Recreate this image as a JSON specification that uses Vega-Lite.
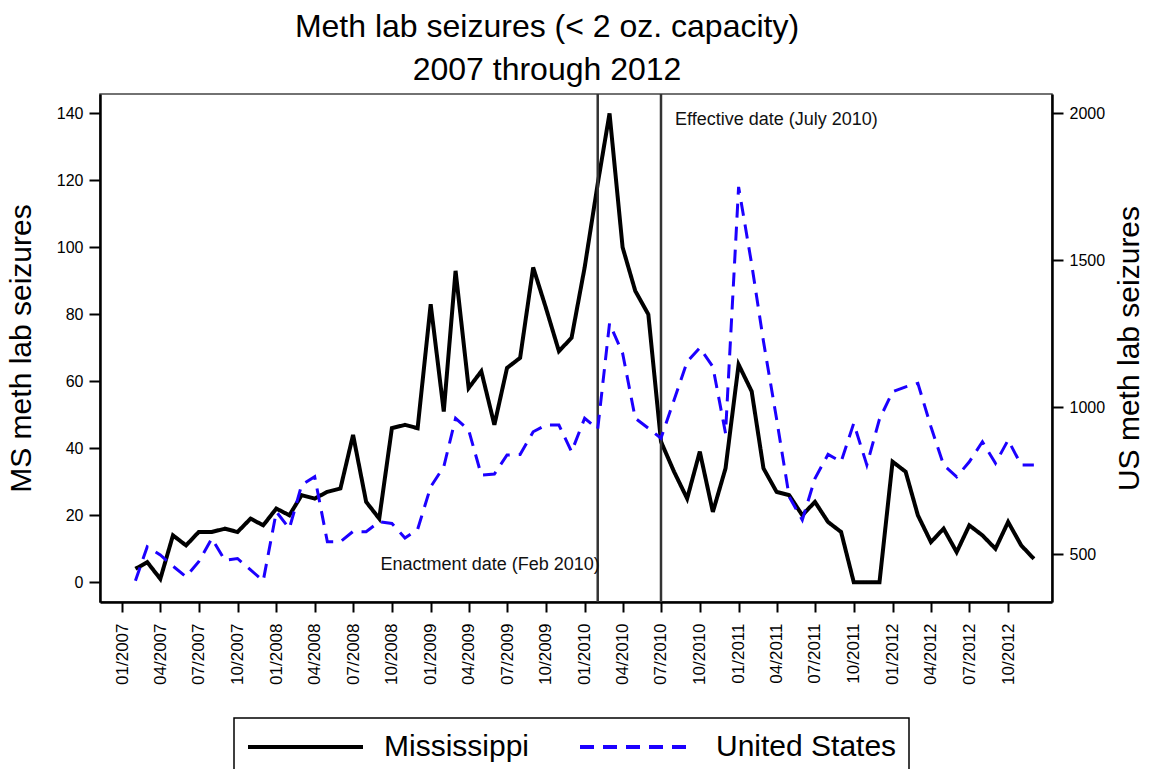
{
  "$schema": "https://vega.github.io/schema/vega-lite/v6.json",
  "width": 952,
  "height": 508,
  "autosize": "none",
  "padding": {"left": 100, "top": 94, "right": 100, "bottom": 167},
  "background": "white",
  "title": {
    "text": ["Meth lab seizures (< 2 oz. capacity)", "2007 through 2012"],
    "fontSize": 32, "font": "Liberation Sans", "fontWeight": "normal", "color": "black",
    "lineHeight": 43, "anchor": "middle", "dx": -29, "offset": 6
  },
  "datasets": {
    "ms": [
      {"date": "2007-02-01", "series": "Mississippi", "seizures": 4},
      {"date": "2007-03-01", "series": "Mississippi", "seizures": 6},
      {"date": "2007-04-01", "series": "Mississippi", "seizures": 1},
      {"date": "2007-05-01", "series": "Mississippi", "seizures": 14},
      {"date": "2007-06-01", "series": "Mississippi", "seizures": 11},
      {"date": "2007-07-01", "series": "Mississippi", "seizures": 15},
      {"date": "2007-08-01", "series": "Mississippi", "seizures": 15},
      {"date": "2007-09-01", "series": "Mississippi", "seizures": 16},
      {"date": "2007-10-01", "series": "Mississippi", "seizures": 15},
      {"date": "2007-11-01", "series": "Mississippi", "seizures": 19},
      {"date": "2007-12-01", "series": "Mississippi", "seizures": 17},
      {"date": "2008-01-01", "series": "Mississippi", "seizures": 22},
      {"date": "2008-02-01", "series": "Mississippi", "seizures": 20},
      {"date": "2008-03-01", "series": "Mississippi", "seizures": 26},
      {"date": "2008-04-01", "series": "Mississippi", "seizures": 25},
      {"date": "2008-05-01", "series": "Mississippi", "seizures": 27},
      {"date": "2008-06-01", "series": "Mississippi", "seizures": 28},
      {"date": "2008-07-01", "series": "Mississippi", "seizures": 44},
      {"date": "2008-08-01", "series": "Mississippi", "seizures": 24},
      {"date": "2008-09-01", "series": "Mississippi", "seizures": 19},
      {"date": "2008-10-01", "series": "Mississippi", "seizures": 46},
      {"date": "2008-11-01", "series": "Mississippi", "seizures": 47},
      {"date": "2008-12-01", "series": "Mississippi", "seizures": 46},
      {"date": "2009-01-01", "series": "Mississippi", "seizures": 83},
      {"date": "2009-02-01", "series": "Mississippi", "seizures": 51},
      {"date": "2009-03-01", "series": "Mississippi", "seizures": 93},
      {"date": "2009-04-01", "series": "Mississippi", "seizures": 58},
      {"date": "2009-05-01", "series": "Mississippi", "seizures": 63},
      {"date": "2009-06-01", "series": "Mississippi", "seizures": 47},
      {"date": "2009-07-01", "series": "Mississippi", "seizures": 64},
      {"date": "2009-08-01", "series": "Mississippi", "seizures": 67},
      {"date": "2009-09-01", "series": "Mississippi", "seizures": 94},
      {"date": "2009-10-01", "series": "Mississippi", "seizures": 82},
      {"date": "2009-11-01", "series": "Mississippi", "seizures": 69},
      {"date": "2009-12-01", "series": "Mississippi", "seizures": 73},
      {"date": "2010-01-01", "series": "Mississippi", "seizures": 94},
      {"date": "2010-02-01", "series": "Mississippi", "seizures": 119},
      {"date": "2010-03-01", "series": "Mississippi", "seizures": 140},
      {"date": "2010-04-01", "series": "Mississippi", "seizures": 100},
      {"date": "2010-05-01", "series": "Mississippi", "seizures": 87},
      {"date": "2010-06-01", "series": "Mississippi", "seizures": 80},
      {"date": "2010-07-01", "series": "Mississippi", "seizures": 42},
      {"date": "2010-08-01", "series": "Mississippi", "seizures": 33},
      {"date": "2010-09-01", "series": "Mississippi", "seizures": 25},
      {"date": "2010-10-01", "series": "Mississippi", "seizures": 39},
      {"date": "2010-11-01", "series": "Mississippi", "seizures": 21},
      {"date": "2010-12-01", "series": "Mississippi", "seizures": 34},
      {"date": "2011-01-01", "series": "Mississippi", "seizures": 65},
      {"date": "2011-02-01", "series": "Mississippi", "seizures": 57},
      {"date": "2011-03-01", "series": "Mississippi", "seizures": 34},
      {"date": "2011-04-01", "series": "Mississippi", "seizures": 27},
      {"date": "2011-05-01", "series": "Mississippi", "seizures": 26},
      {"date": "2011-06-01", "series": "Mississippi", "seizures": 20},
      {"date": "2011-07-01", "series": "Mississippi", "seizures": 24},
      {"date": "2011-08-01", "series": "Mississippi", "seizures": 18},
      {"date": "2011-09-01", "series": "Mississippi", "seizures": 15},
      {"date": "2011-10-01", "series": "Mississippi", "seizures": 0},
      {"date": "2011-11-01", "series": "Mississippi", "seizures": 0},
      {"date": "2011-12-01", "series": "Mississippi", "seizures": 0},
      {"date": "2012-01-01", "series": "Mississippi", "seizures": 36},
      {"date": "2012-02-01", "series": "Mississippi", "seizures": 33},
      {"date": "2012-03-01", "series": "Mississippi", "seizures": 20},
      {"date": "2012-04-01", "series": "Mississippi", "seizures": 12},
      {"date": "2012-05-01", "series": "Mississippi", "seizures": 16},
      {"date": "2012-06-01", "series": "Mississippi", "seizures": 9},
      {"date": "2012-07-01", "series": "Mississippi", "seizures": 17},
      {"date": "2012-08-01", "series": "Mississippi", "seizures": 14},
      {"date": "2012-09-01", "series": "Mississippi", "seizures": 10},
      {"date": "2012-10-01", "series": "Mississippi", "seizures": 18},
      {"date": "2012-11-01", "series": "Mississippi", "seizures": 11},
      {"date": "2012-12-01", "series": "Mississippi", "seizures": 7}
    ],
    "us": [
      {"date": "2007-02-01", "series": "United States", "seizures": 410},
      {"date": "2007-03-01", "series": "United States", "seizures": 526},
      {"date": "2007-04-01", "series": "United States", "seizures": 498},
      {"date": "2007-05-01", "series": "United States", "seizures": 460},
      {"date": "2007-06-01", "series": "United States", "seizures": 424},
      {"date": "2007-07-01", "series": "United States", "seizures": 475},
      {"date": "2007-08-01", "series": "United States", "seizures": 554},
      {"date": "2007-09-01", "series": "United States", "seizures": 480},
      {"date": "2007-10-01", "series": "United States", "seizures": 486},
      {"date": "2007-11-01", "series": "United States", "seizures": 447},
      {"date": "2007-12-01", "series": "United States", "seizures": 410},
      {"date": "2008-01-01", "series": "United States", "seizures": 645},
      {"date": "2008-02-01", "series": "United States", "seizures": 588},
      {"date": "2008-03-01", "series": "United States", "seizures": 736},
      {"date": "2008-04-01", "series": "United States", "seizures": 764},
      {"date": "2008-05-01", "series": "United States", "seizures": 543},
      {"date": "2008-06-01", "series": "United States", "seizures": 543},
      {"date": "2008-07-01", "series": "United States", "seizures": 578},
      {"date": "2008-08-01", "series": "United States", "seizures": 577},
      {"date": "2008-09-01", "series": "United States", "seizures": 611},
      {"date": "2008-10-01", "series": "United States", "seizures": 605},
      {"date": "2008-11-01", "series": "United States", "seizures": 556},
      {"date": "2008-12-01", "series": "United States", "seizures": 585},
      {"date": "2009-01-01", "series": "United States", "seizures": 730},
      {"date": "2009-02-01", "series": "United States", "seizures": 798},
      {"date": "2009-03-01", "series": "United States", "seizures": 963},
      {"date": "2009-04-01", "series": "United States", "seizures": 923},
      {"date": "2009-05-01", "series": "United States", "seizures": 770},
      {"date": "2009-06-01", "series": "United States", "seizures": 773},
      {"date": "2009-07-01", "series": "United States", "seizures": 838},
      {"date": "2009-08-01", "series": "United States", "seizures": 840},
      {"date": "2009-09-01", "series": "United States", "seizures": 917},
      {"date": "2009-10-01", "series": "United States", "seizures": 940},
      {"date": "2009-11-01", "series": "United States", "seizures": 940},
      {"date": "2009-12-01", "series": "United States", "seizures": 849},
      {"date": "2010-01-01", "series": "United States", "seizures": 963},
      {"date": "2010-02-01", "series": "United States", "seizures": 926},
      {"date": "2010-03-01", "series": "United States", "seizures": 1286},
      {"date": "2010-04-01", "series": "United States", "seizures": 1184},
      {"date": "2010-05-01", "series": "United States", "seizures": 963},
      {"date": "2010-06-01", "series": "United States", "seizures": 929},
      {"date": "2010-07-01", "series": "United States", "seizures": 895},
      {"date": "2010-08-01", "series": "United States", "seizures": 1025},
      {"date": "2010-09-01", "series": "United States", "seizures": 1155},
      {"date": "2010-10-01", "series": "United States", "seizures": 1203},
      {"date": "2010-11-01", "series": "United States", "seizures": 1138},
      {"date": "2010-12-01", "series": "United States", "seizures": 912},
      {"date": "2011-01-01", "series": "United States", "seizures": 1750},
      {"date": "2011-02-01", "series": "United States", "seizures": 1487},
      {"date": "2011-03-01", "series": "United States", "seizures": 1224},
      {"date": "2011-04-01", "series": "United States", "seizures": 961},
      {"date": "2011-05-01", "series": "United States", "seizures": 696},
      {"date": "2011-06-01", "series": "United States", "seizures": 617},
      {"date": "2011-07-01", "series": "United States", "seizures": 758},
      {"date": "2011-08-01", "series": "United States", "seizures": 840},
      {"date": "2011-09-01", "series": "United States", "seizures": 815},
      {"date": "2011-10-01", "series": "United States", "seizures": 946},
      {"date": "2011-11-01", "series": "United States", "seizures": 804},
      {"date": "2011-12-01", "series": "United States", "seizures": 960},
      {"date": "2012-01-01", "series": "United States", "seizures": 1053},
      {"date": "2012-02-01", "series": "United States", "seizures": 1070},
      {"date": "2012-03-01", "series": "United States", "seizures": 1082},
      {"date": "2012-04-01", "series": "United States", "seizures": 934},
      {"date": "2012-05-01", "series": "United States", "seizures": 804},
      {"date": "2012-06-01", "series": "United States", "seizures": 764},
      {"date": "2012-07-01", "series": "United States", "seizures": 815},
      {"date": "2012-08-01", "series": "United States", "seizures": 883},
      {"date": "2012-09-01", "series": "United States", "seizures": 810},
      {"date": "2012-10-01", "series": "United States", "seizures": 889},
      {"date": "2012-11-01", "series": "United States", "seizures": 804},
      {"date": "2012-12-01", "series": "United States", "seizures": 804}
    ]
  },
  "layer": [
    {
      "layer": [
        {
          "data": {"name": "ms"},
          "mark": {"type": "line", "strokeWidth": 4},
          "encoding": {
            "x": {
              "field": "date", "type": "temporal",
              "scale": {"type": "utc", "domain": [{"year": 2006, "month": 11, "date": 9, "utc": true}, {"year": 2013, "month": 1, "date": 13, "utc": true}]},
              "axis": {
                "title": null, "format": "%m/%Y", "labelAngle": -90, "labelAlign": "right", "labelBaseline": "middle",
                "tickSize": 10, "labelPadding": 11, "labelFontSize": 17, "labelOverlap": false, "labelFlush": false,
                "values": [
                  {"year": 2007, "month": 1, "date": 1, "utc": true}, {"year": 2007, "month": 4, "date": 1, "utc": true},
                  {"year": 2007, "month": 7, "date": 1, "utc": true}, {"year": 2007, "month": 10, "date": 1, "utc": true},
                  {"year": 2008, "month": 1, "date": 1, "utc": true}, {"year": 2008, "month": 4, "date": 1, "utc": true},
                  {"year": 2008, "month": 7, "date": 1, "utc": true}, {"year": 2008, "month": 10, "date": 1, "utc": true},
                  {"year": 2009, "month": 1, "date": 1, "utc": true}, {"year": 2009, "month": 4, "date": 1, "utc": true},
                  {"year": 2009, "month": 7, "date": 1, "utc": true}, {"year": 2009, "month": 10, "date": 1, "utc": true},
                  {"year": 2010, "month": 1, "date": 1, "utc": true}, {"year": 2010, "month": 4, "date": 1, "utc": true},
                  {"year": 2010, "month": 7, "date": 1, "utc": true}, {"year": 2010, "month": 10, "date": 1, "utc": true},
                  {"year": 2011, "month": 1, "date": 1, "utc": true}, {"year": 2011, "month": 4, "date": 1, "utc": true},
                  {"year": 2011, "month": 7, "date": 1, "utc": true}, {"year": 2011, "month": 10, "date": 1, "utc": true},
                  {"year": 2012, "month": 1, "date": 1, "utc": true}, {"year": 2012, "month": 4, "date": 1, "utc": true},
                  {"year": 2012, "month": 7, "date": 1, "utc": true}, {"year": 2012, "month": 10, "date": 1, "utc": true}
                ]
              }
            },
            "y": {
              "field": "seizures", "type": "quantitative", "title": "MS meth lab seizures",
              "scale": {"domain": [-5.9, 145.8], "nice": false, "zero": false},
              "axis": {"orient": "left", "values": [0, 20, 40, 60, 80, 100, 120, 140], "tickSize": 11, "labelPadding": 6, "titlePadding": 20}
            },
            "color": {
              "field": "series", "type": "nominal",
              "scale": {"domain": ["Mississippi", "United States"], "range": ["black", "#1c00ff"]},
              "legend": {"title": null}
            },
            "strokeDash": {
              "field": "series", "type": "nominal",
              "scale": {"domain": ["Mississippi", "United States"], "range": [[1, 0], [14, 9]]},
              "legend": {"title": null}
            }
          }
        },
        {
          "data": {"values": [{"date": "2010-02-01"}, {"date": "2010-07-01"}]},
          "mark": {"type": "rule", "color": "#333333", "strokeWidth": 2.5},
          "encoding": {
            "x": {"field": "date", "type": "temporal", "scale": {"type": "utc", "domain": [{"year": 2006, "month": 11, "date": 9, "utc": true}, {"year": 2013, "month": 1, "date": 13, "utc": true}]}}
          }
        },
        {
          "data": {"values": [{"date": "2010-02-01", "label": "Enactment date (Feb 2010)"}]},
          "mark": {"type": "text", "align": "right", "baseline": "middle", "fontSize": 18, "dx": 2, "color": "#111111"},
          "encoding": {
            "x": {"field": "date", "type": "temporal", "scale": {"type": "utc", "domain": [{"year": 2006, "month": 11, "date": 9, "utc": true}, {"year": 2013, "month": 1, "date": 13, "utc": true}]}},
            "y": {"datum": 5, "type": "quantitative", "title": "MS meth lab seizures"},
            "text": {"field": "label"}
          }
        },
        {
          "data": {"values": [{"date": "2010-07-01", "label": "Effective date (July 2010)"}]},
          "mark": {"type": "text", "align": "left", "baseline": "middle", "fontSize": 18, "dx": 14, "color": "#111111"},
          "encoding": {
            "x": {"field": "date", "type": "temporal", "scale": {"type": "utc", "domain": [{"year": 2006, "month": 11, "date": 9, "utc": true}, {"year": 2013, "month": 1, "date": 13, "utc": true}]}},
            "y": {"datum": 138, "type": "quantitative", "title": "MS meth lab seizures"},
            "text": {"field": "label"}
          }
        }
      ]
    },
    {
      "data": {"name": "us"},
      "mark": {"type": "line", "strokeWidth": 3},
      "encoding": {
        "x": {"field": "date", "type": "temporal", "scale": {"type": "utc", "domain": [{"year": 2006, "month": 11, "date": 9, "utc": true}, {"year": 2013, "month": 1, "date": 13, "utc": true}]}},
        "y": {
          "field": "seizures", "type": "quantitative", "title": "US meth lab seizures",
          "scale": {"domain": [338, 2066], "nice": false, "zero": false},
          "axis": {"orient": "right", "values": [500, 1000, 1500, 2000], "format": "d", "tickSize": 11, "labelPadding": 6, "titlePadding": 10, "titleAngle": 270, "titleBaseline": "top"}
        },
        "color": {"field": "series", "type": "nominal", "scale": {"domain": ["Mississippi", "United States"], "range": ["black", "#1c00ff"]}, "legend": {"title": null}},
        "strokeDash": {"field": "series", "type": "nominal", "scale": {"domain": ["Mississippi", "United States"], "range": [[1, 0], [14, 9]]}, "legend": {"title": null}}
      }
    }
  ],
  "resolve": {"scale": {"y": "independent"}},
  "config": {
    "font": "Liberation Sans",
    "view": {"stroke": "#444444", "strokeWidth": 1.5},
    "axis": {
      "grid": false, "domainColor": "black", "domainWidth": 2.5, "tickColor": "black", "tickWidth": 2,
      "labelColor": "black", "titleColor": "black", "labelFont": "Liberation Sans", "titleFont": "Liberation Sans",
      "titleFontWeight": "normal", "labelFontSize": 16, "titleFontSize": 30
    },
    "legend": {
      "orient": "none", "legendX": 134, "legendY": 624, "direction": "horizontal",
      "strokeColor": "black", "strokeWidth": 1.5, "fillColor": "white", "padding": 12,
      "labelFontSize": 30, "labelFont": "Liberation Sans", "labelColor": "black", "labelLimit": 400,
      "symbolType": "M-1,0H6.6667", "symbolSize": 900, "symbolStrokeWidth": 4, "labelOffset": 104, "columnPadding": 42
    }
  }
}
